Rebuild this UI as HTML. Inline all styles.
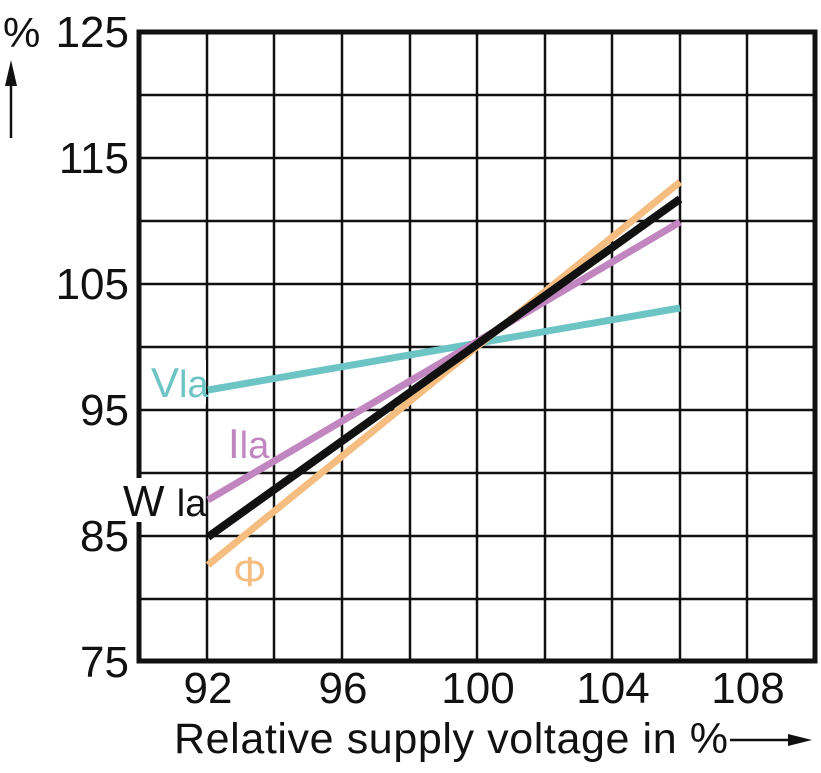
<!DOCTYPE html>
<html><head><style>body{margin:0;background:#fff}</style></head><body>
<svg width="821" height="768" xmlns="http://www.w3.org/2000/svg" font-family="Liberation Sans, sans-serif">
<rect width="821" height="768" fill="#fff"/>
<g stroke="#111" stroke-width="2.5">
<line x1="207" y1="32" x2="207" y2="661"/><line x1="274" y1="32" x2="274" y2="661"/><line x1="342" y1="32" x2="342" y2="661"/><line x1="410" y1="32" x2="410" y2="661"/><line x1="477" y1="32" x2="477" y2="661"/><line x1="545" y1="32" x2="545" y2="661"/><line x1="612" y1="32" x2="612" y2="661"/><line x1="680" y1="32" x2="680" y2="661"/><line x1="747" y1="32" x2="747" y2="661"/>
<line x1="139" y1="95" x2="815" y2="95"/><line x1="139" y1="158" x2="815" y2="158"/><line x1="139" y1="221" x2="815" y2="221"/><line x1="139" y1="284" x2="815" y2="284"/><line x1="139" y1="347" x2="815" y2="347"/><line x1="139" y1="410" x2="815" y2="410"/><line x1="139" y1="473" x2="815" y2="473"/><line x1="139" y1="536" x2="815" y2="536"/><line x1="139" y1="599" x2="815" y2="599"/>
</g>
<rect x="139" y="32" width="676" height="629" fill="none" stroke="#111" stroke-width="5"/>
<rect x="148" y="360" width="58" height="44" fill="#fff"/>
<rect x="120" y="478" width="84" height="44" fill="#fff"/>
<g stroke-width="7" stroke-linecap="butt">
<line x1="208" y1="390" x2="680" y2="308" stroke="#6cc4c4"/>
<line x1="208" y1="565" x2="680" y2="182" stroke="#f5bd80"/>
<line x1="208" y1="500" x2="680" y2="222" stroke="#c185c0"/>
<line x1="208" y1="537" x2="680" y2="199" stroke="#111" stroke-width="8"/>
</g>
<g font-size="44" fill="#111" text-anchor="end">
<text x="129" y="47">125</text><text x="129" y="173">115</text><text x="129" y="299">105</text><text x="129" y="425">95</text><text x="129" y="551">85</text><text x="129" y="677">75</text>
</g>
<g font-size="44" fill="#111" text-anchor="middle">
<text x="208" y="703">92</text><text x="343" y="703">96</text><text x="478" y="703">100</text><text x="613" y="703">104</text><text x="748" y="703">108</text>
</g>
<text x="3" y="47" font-size="42" fill="#111">%</text>
<line x1="11" y1="138" x2="11" y2="82" stroke="#111" stroke-width="2.5"/>
<polygon points="11,60 5,86 17,86" fill="#111"/>
<text x="174" y="753" font-size="43" fill="#111" textLength="554">Relative supply voltage in %</text>
<line x1="730" y1="740" x2="795" y2="740" stroke="#111" stroke-width="2.5"/>
<polygon points="812,740 788,734 788,746" fill="#111"/>
<text x="151" y="397" font-size="42" fill="#6cc4c4">V<tspan font-size="38">la</tspan></text>
<text x="228" y="458" font-size="42" fill="#c185c0">I<tspan font-size="38">la</tspan></text>
<text x="123" y="516" font-size="44" fill="#111">W <tspan font-size="38">la</tspan></text>
<text x="233" y="586" font-size="42" fill="#f5bd80">Φ</text>
</svg>
</body></html>
